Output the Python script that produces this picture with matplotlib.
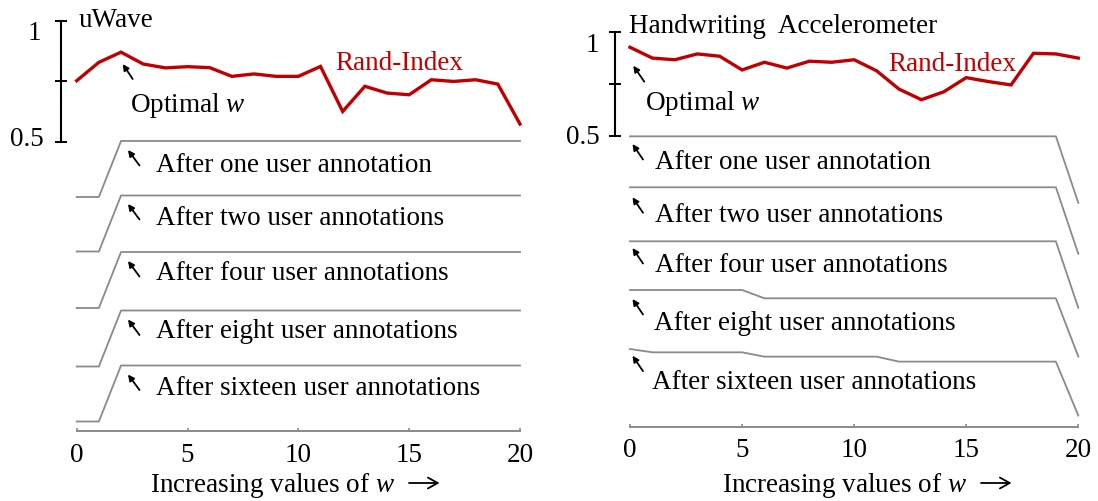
import matplotlib
matplotlib.use('Agg')
import matplotlib.pyplot as plt

W, H = 1098, 502
plt.rcParams['font.family'] = ['Liberation Serif', 'DejaVu Serif']
plt.rcParams['mathtext.fontset'] = 'custom'
plt.rcParams['mathtext.rm'] = 'Liberation Serif'
plt.rcParams['mathtext.it'] = 'Liberation Serif:italic'
FS = 19.5

# ---------------- data ----------------
w_values = list(range(21))
x_ticks = [0, 5, 10, 15, 20]

uwave_rand = [0.752, 0.828, 0.870, 0.821, 0.805, 0.810, 0.806, 0.770, 0.780, 0.770,
              0.770, 0.811, 0.625, 0.729, 0.701, 0.694, 0.756, 0.749, 0.756, 0.738, 0.573]
hand_rand = [0.928, 0.876, 0.868, 0.896, 0.885, 0.819, 0.856, 0.828, 0.861, 0.856,
             0.868, 0.815, 0.727, 0.676, 0.714, 0.782, 0.763, 0.747, 0.899, 0.896, 0.876]

annotation_labels = ['After one user annotation', 'After two user annotations',
                     'After four user annotations', 'After eight user annotations',
                     'After sixteen user annotations']

# normalized scores of each w after n user annotations (1 = best)
uwave_after_1 = [0, 0] + [1] * 19
uwave_after_2 = [0, 0] + [1] * 19
uwave_after_4 = [0, 0] + [1] * 19
uwave_after_8 = [0, 0] + [1] * 19
uwave_after_16 = [0, 0] + [1] * 19

hand_after_1 = [1] * 20 + [0]
hand_after_2 = [1] * 20 + [0]
hand_after_4 = [1] * 20 + [0]
hand_after_8 = [1] * 6 + [0.875] * 14 + [0]
hand_after_16 = [1] + [0.95] * 5 + [0.885] * 6 + [0.81] * 8 + [0]

RED = '#C00000'
GRAY = '#8a8a8a'

fig = plt.figure(figsize=(W / 100, H / 100), dpi=100)


def fx(x):
    return x / W


def fy(y):
    return 1 - y / H


panels = [
    dict(title='uWave', rand=uwave_rand,
         segs=[uwave_after_1, uwave_after_2, uwave_after_4, uwave_after_8, uwave_after_16],
         left=76.7, right=520.0, top=21.7, bottom=431.7, px_per_unit=242.0,
         spine_out=11.3,
         row_tops=[142.0, 196.5, 253.0, 311.5, 366.5], row_drop=56.0,
         row_text_x=[156.5] * 5, row_text_base=[171.7, 225.0, 280.0, 338.3, 395.0],
         row_arrow_x=(128.0, 139.5), row_arrow_head=[151.0, 205.0, 262.0, 320.5, 375.5],
         title_xy=(78.3, 27.0), opt_xy=(129.5, 112.0), opt_arrow=((122.7, 65.0), (132.7, 80.0)),
         rand_xy=(335.0, 70.0), ylab=[('1', 41.5, 40.0), ('0.5', 43.5, 146.0)],
         xlabel_xy=(150.4, 492.0), xarrow=(409.0, 439.5, 484.0), xtick_pad=8.3),
    dict(title='Handwriting  Accelerometer', rand=hand_rand,
         segs=[hand_after_1, hand_after_2, hand_after_4, hand_after_8, hand_after_16],
         left=630.0, right=1078.3, top=33.3, bottom=427.7, px_per_unit=208.0,
         spine_out=10.8,
         row_tops=[137.3, 188.3, 242.3, 291.0, 350.0], row_drop=66.5,
         row_text_x=[655.0, 655.0, 655.0, 654.0, 652.0],
         row_text_base=[169.0, 221.7, 271.7, 330.0, 389.3],
         row_arrow_x=(632.5, 643.0), row_arrow_head=[145.0, 198.3, 249.0, 300.0, 356.7],
         title_xy=(629.0, 33.3), opt_xy=(645.0, 110.0), opt_arrow=((633.3, 66.7), (644.3, 82.7)),
         rand_xy=(888.0, 70.7), ylab=[('1', 599.0, 52.0), ('0.5', 599.5, 144.5)],
         xlabel_xy=(722.0, 492.0), xarrow=(981.0, 1011.5, 484.0), xtick_pad=7.6),
]

arrow_kw = dict(arrowstyle='-|>', lw=1.3, color='black', mutation_scale=9, shrinkA=0, shrinkB=0)

for p in panels:
    ylow = 1 - (p['bottom'] - p['top']) / p['px_per_unit']
    ax = fig.add_axes([fx(p['left']), fy(p['bottom']),
                       (p['right'] - p['left']) / W, (p['bottom'] - p['top']) / H])
    ax.set_xlim(0, 20)
    ax.set_ylim(ylow, 1.0)
    ax.patch.set_visible(False)
    for s in ['top', 'right']:
        ax.spines[s].set_visible(False)
    ax.spines['left'].set_position(('outward', p['spine_out']))
    ax.spines['left'].set_bounds(0.5, 1.0)
    ax.spines['left'].set_linewidth(1.5)
    ax.spines['left'].set_color('black')
    ax.spines['bottom'].set_bounds(0, 20)
    ax.spines['bottom'].set_color(GRAY)
    ax.spines['bottom'].set_linewidth(1.4)
    ax.set_yticks([0.5, 0.75, 1.0])
    ax.set_yticklabels([])
    ax.tick_params(axis='y', direction='inout', length=8.5, width=1.4, color='black')
    ax.set_xticks(x_ticks)
    ax.set_xticklabels([str(t) for t in x_ticks], fontsize=FS)
    ax.tick_params(axis='x', direction='in', length=2.5, width=1.2, color=GRAY,
                   pad=p['xtick_pad'])

    # Rand index line
    ax.plot(w_values, p['rand'], color=RED, lw=2.4, solid_joinstyle='miter', clip_on=False)

    # segmentation rows
    u = 1.0 / p['px_per_unit']
    for k, seg in enumerate(p['segs']):
        top_val = 1 - (p['row_tops'][k] - p['top']) * u
        drop = p['row_drop'] * u
        ys = [top_val - (1 - v) * drop for v in seg]
        ax.plot(w_values, ys, color=GRAY, lw=1.3, clip_on=False)
        fig.text(fx(p['row_text_x'][k]), fy(p['row_text_base'][k]), annotation_labels[k],
                 fontsize=FS, va='baseline', ha='left')
        hy = p['row_arrow_head'][k]
        ax.annotate('', xy=(p['row_arrow_x'][0], H - hy), xycoords='figure pixels',
                    xytext=(p['row_arrow_x'][1], H - hy - 15.5), textcoords='figure pixels',
                    arrowprops=arrow_kw)

    # texts
    fig.text(fx(p['title_xy'][0]), fy(p['title_xy'][1]), p['title'], fontsize=FS,
             va='baseline', ha='left')
    fig.text(fx(p['opt_xy'][0]), fy(p['opt_xy'][1]), 'Optimal $w$', fontsize=FS,
             va='baseline', ha='left')
    (hx, hy), (tx, ty) = p['opt_arrow']
    ax.annotate('', xy=(hx, H - hy), xycoords='figure pixels',
                xytext=(tx, H - ty), textcoords='figure pixels', arrowprops=arrow_kw)
    fig.text(fx(p['rand_xy'][0]), fy(p['rand_xy'][1]), 'Rand-Index', fontsize=FS,
             color=RED, va='baseline', ha='left')
    for lab, x, y in p['ylab']:
        fig.text(fx(x), fy(y), lab, fontsize=FS, va='baseline', ha='right')
    fig.text(fx(p['xlabel_xy'][0]), fy(p['xlabel_xy'][1]),
             'Increasing values of $w$', fontsize=FS, va='baseline', ha='left')
    x0, x1, yy = p['xarrow']
    ax.annotate('', xy=(x1, H - yy), xycoords='figure pixels',
                xytext=(x0, H - yy), textcoords='figure pixels',
                arrowprops=dict(arrowstyle='->,head_length=0.5,head_width=0.28', lw=1.3,
                                color='black', mutation_scale=14, shrinkA=0, shrinkB=0))

fig.savefig('out.png', dpi=100)
